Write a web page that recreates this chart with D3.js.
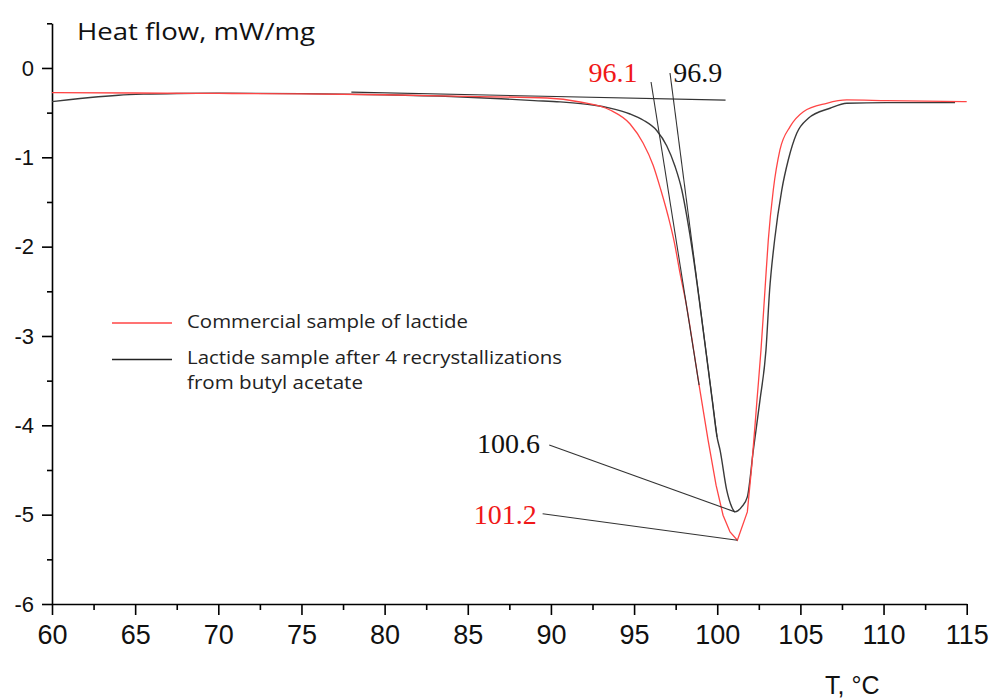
<!DOCTYPE html>
<html>
<head>
<meta charset="utf-8">
<script src="https://cdn.jsdelivr.net/npm/d3@7"></script>
<style>
  html, body { margin: 0; padding: 0; background: #fff; }
  svg { display: block; }
</style>
</head>
<body>
<svg id="chart" width="993" height="700"></svg>
<script>
// ---------- data ----------
const xTicks = [60, 65, 70, 75, 80, 85, 90, 95, 100, 105, 110, 115];
const yTicks = [-6, -5, -4, -3, -2, -1, 0];
const seriesNames = ["Commercial sample of lactide", "Lactide sample after 4 recrystallizations", "from butyl acetate"];

// Commercial sample (red): temperature, heat flow
const redT  = [60, 65, 70, 75, 80, 85, 89.77, 91.75, 93.55, 94.76, 95.54, 96.14, 96.61, 97.03, 97.43, 97.75, 98.09, 98.91,
               99.45, 99.93, 100.35, 100.77, 101.21, 101.81,
               102.07, 102.39, 102.63, 102.87, 103.07, 103.37, 103.77, 104.38, 105.18, 106.58, 107.79, 110.19, 115];
const redHF = [-0.277, -0.28, -0.285, -0.29, -0.30, -0.318, -0.336, -0.381, -0.470, -0.627, -0.840, -1.086, -1.366, -1.646, -1.960, -2.284, -2.598, -3.550,
               -4.166, -4.670, -5.006, -5.193, -5.286, -4.969,
               -4.465, -3.718, -3.158, -2.486, -1.926, -1.366, -0.918, -0.657, -0.489, -0.395, -0.358, -0.366, -0.377];

// Recrystallized sample (black)
const blackT  = [60, 61, 62.3, 64, 65.5, 67.5, 70, 75, 80, 84, 87, 89, 90.55, 92.53, 93.55, 94.76, 95.56, 96.36, 96.96, 97.46, 97.87, 98.18, 98.50,
                 98.92, 99.31, 99.70, 99.99, 100.17, 100.57, 100.87, 101.07, 101.47, 101.81, 102.17, 102.57, 102.93, 103.15, 103.45, 103.88,
                 104.27, 104.78, 105.48, 106.78, 107.79, 110.19, 113.6, 114.3];
const blackHF = [-0.377, -0.355, -0.33, -0.305, -0.293, -0.285, -0.282, -0.287, -0.30, -0.32, -0.345, -0.365, -0.38, -0.415, -0.45, -0.515, -0.585, -0.70, -0.87, -1.10, -1.366, -1.669, -2.038,
                 -2.598, -3.158, -3.718, -4.132, -4.278, -4.726, -4.913, -4.969, -4.913, -4.801, -4.278, -3.718, -3.158, -2.486, -1.926, -1.366,
                 -1.030, -0.731, -0.563, -0.451, -0.395, -0.388, -0.388, -0.386];

// Construction lines (tangents) in data units
const baselineT  = [78, 100.5];
const baselineHF = [-0.27, -0.36];
const tangent1T  = [96.02, 98.91];
const tangent1HF = [-0.157, -3.55];
const tangent2T  = [97.16, 99.99];
const tangent2HF = [-0.056, -4.13];

// Annotation labels and leader lines
const annoText  = ["96.1", "96.9", "100.6", "101.2"];
const annoT     = [95.2, 97.35, 89.35, 89.15];
const annoHF    = [-0.16, -0.16, -4.315, -5.10];
const annoColor = ["#f01818", "#111111", "#111111", "#f01818"];
const leader1T  = [89.9, 101.07];
const leader1HF = [-4.22, -4.969];
const leader2T  = [89.5, 101.21];
const leader2HF = [-4.99, -5.286];

// ---------- chart ----------
const svg = d3.select("#chart");
const x = d3.scaleLinear().domain([60, 115]).range([52, 966.7]);
const y = d3.scaleLinear().domain([-6, 0.5]).range([604, 23.3]);

const redColor = "#ff4545";
const blackColor = "#3a3a3a";
const fmt = d => String(d);

// X axis
const xMinor = d3.range(62.5, 115, 5);
const gx = svg.append("g").attr("transform", `translate(0,${y(-6)})`);
gx.call(d3.axisBottom(x).tickValues(xTicks).tickSize(11).tickSizeOuter(0).tickPadding(10).tickFormat(fmt));
const gxm = svg.append("g").attr("transform", `translate(0,${y(-6)})`);
gxm.call(d3.axisBottom(x).tickValues(xMinor).tickSize(6).tickSizeOuter(0).tickFormat(""));
gxm.select(".domain").remove();

// Y axis
const yMinor = d3.range(-5.5, 0.6, 1);
const gy = svg.append("g").attr("transform", `translate(${x(60)},0)`);
gy.call(d3.axisLeft(y).tickValues(yTicks).tickSize(10).tickSizeOuter(0).tickPadding(8).tickFormat(fmt));
const gym = svg.append("g").attr("transform", `translate(${x(60)},0)`);
gym.call(d3.axisLeft(y).tickValues(yMinor).tickSize(5).tickSizeOuter(0).tickFormat(""));
gym.select(".domain").remove();

svg.selectAll(".domain, .tick line").attr("stroke", "#000").attr("stroke-width", 1.6);
gx.selectAll(".tick text").attr("font-family", "'Liberation Sans', Arial, sans-serif").attr("font-size", 27).attr("fill", "#111");
gy.selectAll(".tick text").attr("font-family", "'Liberation Sans', Arial, sans-serif").attr("font-size", 22).attr("fill", "#111");

// Axis titles
svg.append("text").attr("x", 77).attr("y", 40)
  .attr("font-family", "'Open Sans', sans-serif").attr("font-size", 23).attr("fill", "#111")
  .attr("textLength", 238).attr("lengthAdjust", "spacingAndGlyphs")
  .text("Heat flow, mW/mg");
svg.append("text").attr("x", 825).attr("y", 694)
  .attr("font-family", "'Liberation Sans', Arial, sans-serif").attr("font-size", 25).attr("fill", "#111")
  .text("T, °C");

// Curves
const lineSmooth = d3.line().x(d => x(d[0])).y(d => y(d[1])).curve(d3.curveMonotoneX);
const lineStraight = d3.line().x(d => x(d[0])).y(d => y(d[1])).curve(d3.curveLinear);
const redData = redT.map((t, i) => [t, redHF[i]]);
const blackData = blackT.map((t, i) => [t, blackHF[i]]);

svg.append("path").datum(blackData)
  .attr("d", lineSmooth)
  .attr("fill", "none").attr("stroke", blackColor).attr("stroke-width", 1.4);

// red: smooth flanks, polygonal around the sharp minimum
const iA = redT.indexOf(99.45), iB = redT.indexOf(101.81);
const redPath = lineSmooth(redData.slice(0, iA + 1)) +
  lineStraight(redData.slice(iA, iB + 1)).replace(/^M/, "L") +
  lineSmooth(redData.slice(iB)).replace(/^M/, "L");
svg.append("path").attr("d", redPath)
  .attr("fill", "none").attr("stroke", redColor).attr("stroke-width", 1.3);

// Construction lines
function seg(ts, hs, color, w) {
  svg.append("line")
    .attr("x1", x(ts[0])).attr("y1", y(hs[0]))
    .attr("x2", x(ts[1])).attr("y2", y(hs[1]))
    .attr("stroke", color).attr("stroke-width", w);
}
seg(baselineT, baselineHF, "#333", 1.1);
seg(tangent1T, tangent1HF, "#333", 1.1);
seg(tangent2T, tangent2HF, "#333", 1.1);
seg(leader1T, leader1HF, "#333", 1.1);
seg(leader2T, leader2HF, "#333", 1.1);

// Annotation labels
annoText.forEach((t, i) => {
  svg.append("text")
    .attr("x", x(annoT[i])).attr("y", y(annoHF[i]))
    .attr("text-anchor", i === 1 ? "start" : "end")
    .attr("font-family", "'Liberation Serif', 'Times New Roman', serif")
    .attr("font-size", 28).attr("fill", annoColor[i])
    .text(t);
});

// Legend
const legend = svg.append("g");
const legRows = [
  {color: redColor, ly: 323, tx: seriesNames[0], ty: 327.5, w: 281},
  {color: "#222", ly: 359.5, tx: seriesNames[1], ty: 363.5, w: 375},
  {color: null, ly: null, tx: seriesNames[2], ty: 389, w: 176}
];
legRows.forEach(r => {
  if (r.color) {
    legend.append("line").attr("x1", 112).attr("x2", 172).attr("y1", r.ly).attr("y2", r.ly)
      .attr("stroke", r.color).attr("stroke-width", 1.3);
  }
  legend.append("text").attr("x", 187).attr("y", r.ty)
    .attr("font-family", "'Open Sans', sans-serif").attr("font-size", 17.5).attr("fill", "#222")
    .attr("textLength", r.w).attr("lengthAdjust", "spacingAndGlyphs")
    .text(r.tx);
});
</script>
</body>
</html>
